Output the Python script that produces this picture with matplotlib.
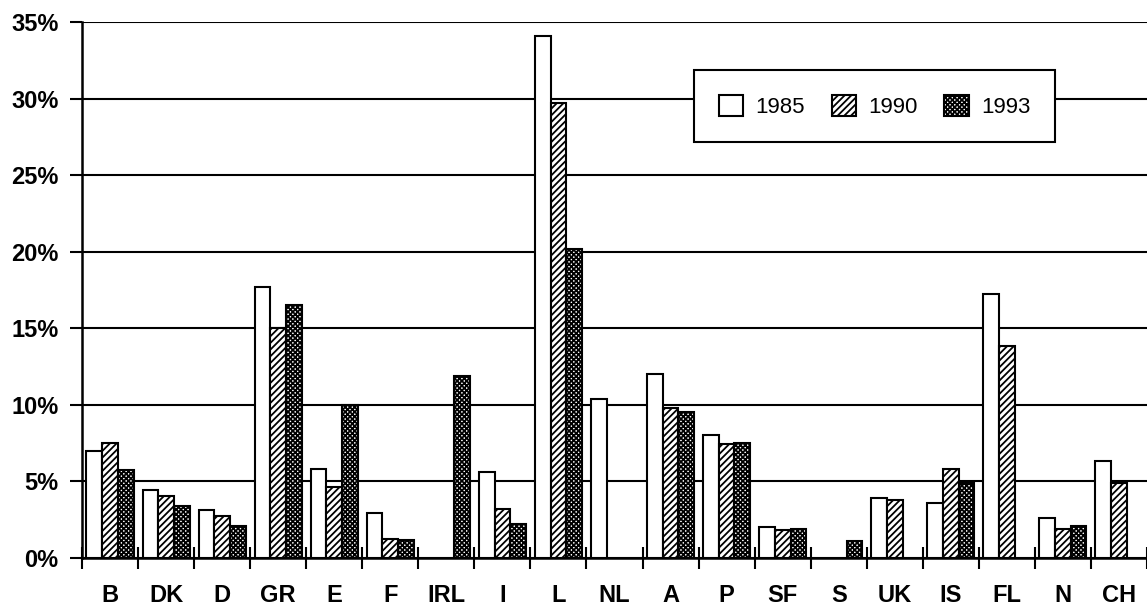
import numpy as np
import matplotlib
matplotlib.use("Agg")
import matplotlib.pyplot as plt
from matplotlib.ticker import FixedLocator, PercentFormatter

plt.rcParams['font.family'] = ['Liberation Sans', 'DejaVu Sans']
plt.rcParams['hatch.linewidth'] = 1.3

# Paesi e quote (%) per anno
countries = ["B", "DK", "D", "GR", "E", "F", "IRL", "I", "L", "NL",
             "A", "P", "SF", "S", "UK", "IS", "FL", "N", "CH"]
years = ["1985", "1990", "1993"]
v1985 = [7.0, 4.4, 3.1, 17.7, 5.8, 2.9, np.nan, 5.6, 34.1, 10.4,
         12.0, 8.0, 2.0, np.nan, 3.9, 3.6, 17.2, 2.6, 6.3]
v1990 = [7.5, 4.0, 2.7, 15.0, 4.6, 1.2, np.nan, 3.2, 29.7, np.nan,
         9.8, 7.4, 1.8, np.nan, 3.8, 5.8, 13.8, 1.9, 4.9]
v1993 = [5.7, 3.4, 2.1, 16.5, 10.0, 1.15, 11.9, 2.2, 20.2, np.nan,
         9.5, 7.5, 1.9, 1.1, np.nan, 4.9, np.nan, 2.1, np.nan]

series = [v1985, v1990, v1993]
hatches = ["", "/////", "xxxxxxx"]

fig = plt.figure(figsize=(11.47, 6.07), dpi=100)
ax = fig.add_axes([82 / 1147, 49.3 / 607, 1065 / 1147, 535.7 / 607])

x = np.arange(len(countries))
w = 0.28
for i, (vals, h, lab) in enumerate(zip(series, hatches, years)):
    ax.bar(x + (i - 1) * w, vals, width=w, facecolor="white", edgecolor="black",
           hatch=h, linewidth=1.5, label=lab, zorder=3)

ax.set_xlim(-0.5, 18.3)
ax.set_ylim(0, 35)
ax.yaxis.set_major_locator(FixedLocator(np.arange(0, 36, 5)))
ax.yaxis.set_major_formatter(PercentFormatter(decimals=0))
ax.grid(axis="y", color="black", linewidth=1.5, zorder=0)
ax.set_axisbelow(True)

# etichette al centro del gruppo, tacche sui bordi
ax.set_xticks(x)
ax.set_xticklabels(countries)
ax.set_xticks(np.arange(-0.5, 19, 1), minor=True)
ax.tick_params(axis="x", which="major", length=0, pad=19)
ax.tick_params(axis="x", which="minor", direction="inout", length=16, width=1.5)
ax.tick_params(axis="y", length=9, width=1.5, pad=8)
for lab in ax.get_xticklabels() + ax.get_yticklabels():
    lab.set_fontsize(17)
    lab.set_fontweight("bold")

for s in ["top", "right"]:
    ax.spines[s].set_visible(False)
ax.spines["left"].set_linewidth(1.8)
ax.spines["bottom"].set_linewidth(1.8)

leg = ax.legend(loc="upper left", bbox_to_anchor=(0.575, 0.91), ncol=3,
                fontsize=16, frameon=True, fancybox=False, edgecolor="black",
                framealpha=1, handlelength=1.1, handleheight=1.1,
                handletextpad=0.55, columnspacing=1.2, borderpad=1.1,
                borderaxespad=0)
leg.get_frame().set_linewidth(1.5)
leg.set_zorder(5)

fig.savefig("out.png", dpi=100)
